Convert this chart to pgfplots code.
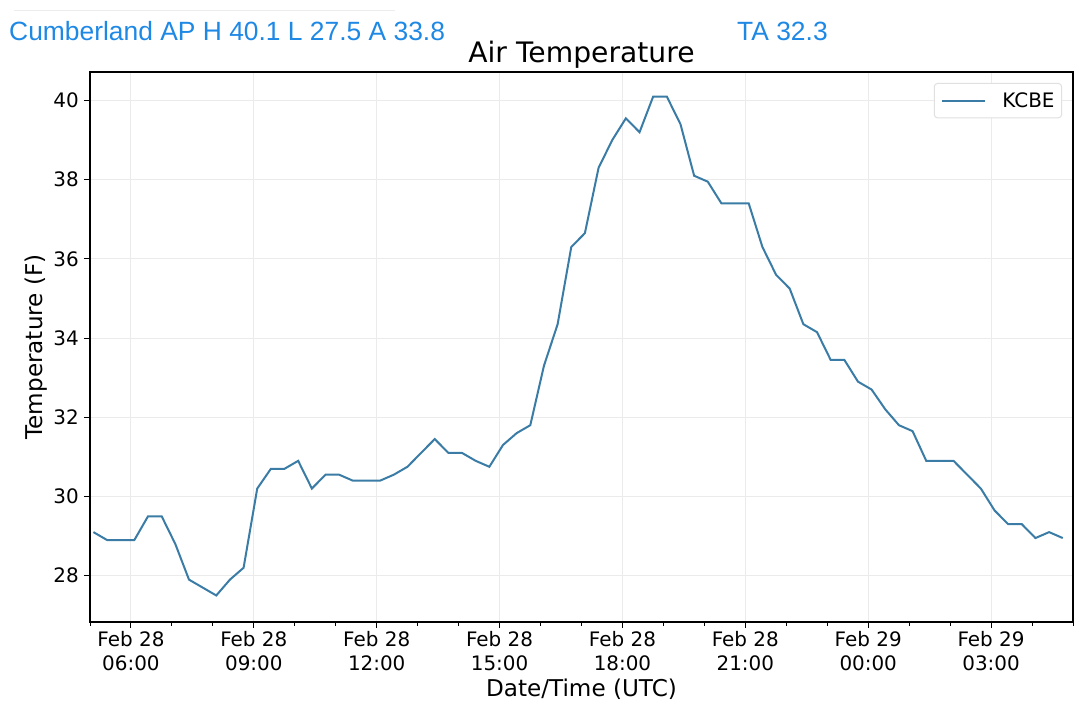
\documentclass[border=0pt]{standalone}
\usepackage{pgfplots}
\pgfplotsset{compat=1.18}
\usepackage{fontspec}
\setmainfont{DejaVu Sans}
\newfontfamily\libsans{Liberation Sans}
\definecolor{kline}{HTML}{3A7CA5}
\definecolor{apblue}{HTML}{1E88E5}
\definecolor{gridc}{HTML}{EBEBEB}
\pgfplotstableread{
t T
5.083 29.1
5.417 28.9
5.75 28.9
6.083 28.9
6.417 29.5
6.75 29.5
7.083 28.8
7.417 27.9
7.75 27.7
8.083 27.5
8.417 27.9
8.75 28.2
9.083 30.2
9.417 30.7
9.75 30.7
10.083 30.9
10.417 30.2
10.75 30.55
11.083 30.55
11.417 30.4
11.75 30.4
12.083 30.4
12.417 30.55
12.75 30.75
13.083 31.1
13.417 31.45
13.75 31.1
14.083 31.1
14.417 30.9
14.75 30.75
15.083 31.3
15.417 31.6
15.75 31.8
16.083 33.3
16.417 34.35
16.75 36.3
17.083 36.65
17.417 38.3
17.75 39.0
18.083 39.55
18.417 39.2
18.75 40.1
19.083 40.1
19.417 39.4
19.75 38.1
20.083 37.95
20.417 37.4
20.75 37.4
21.083 37.4
21.417 36.3
21.75 35.6
22.083 35.25
22.417 34.35
22.75 34.15
23.083 33.45
23.417 33.45
23.75 32.9
24.083 32.7
24.417 32.2
24.75 31.8
25.083 31.65
25.417 30.9
25.75 30.9
26.083 30.9
26.417 30.55
26.75 30.2
27.083 29.65
27.417 29.3
27.75 29.3
28.083 28.95
28.417 29.1
28.75 28.95
}\kcbe
\begin{document}
\begin{tikzpicture}
\path[use as bounding box] (0bp,0bp) rectangle (1080bp,715bp);
\draw[color=black!7, line width=1bp] (14bp,704bp) -- (395bp,704bp);
\node[anchor=base west, inner sep=0pt, text=apblue, font=\libsans\fontsize{26.5}{31}\selectfont] at (9bp,674bp) {Cumberland AP H 40.1 L 27.5 A 33.8};
\node[anchor=base west, inner sep=0pt, text=apblue, font=\libsans\fontsize{26.5}{31}\selectfont] at (737bp,674bp) {TA 32.3};
\begin{axis}[
  at={(90bp,93bp)}, anchor=south west,
  scale only axis, width=983bp, height=550bp,
  xmin=5.0, xmax=29.0, ymin=26.83, ymax=40.72,
  xtick={6,9,12,15,18,21,24,27},
  xticklabels={{Feb 28\\06:00},{Feb 28\\09:00},{Feb 28\\12:00},{Feb 28\\15:00},{Feb 28\\18:00},{Feb 28\\21:00},{Feb 29\\00:00},{Feb 29\\03:00}},
  minor xtick={5,7,8,10,11,13,14,16,17,19,20,22,23,25,26,28,29},
  ytick={28,30,32,34,36,38,40},
  grid=major, major grid style={color=gridc, line width=1bp},
  tick align=outside, major tick length=6bp, minor tick length=4bp,
  tick style={black, line width=1bp},
  xtick pos=left, ytick pos=left,
  axis line style={line width=1.3bp, black},
  /pgf/number format/assume math mode=true,
  ticklabel style={font=\fontsize{20}{24}\selectfont},
  xticklabel style={align=center, inner sep=0pt, anchor=north, yshift=-3bp},
  yticklabel style={inner sep=0pt, anchor=east, xshift=-5bp},
  every axis title shift=0pt,
  title={Air Temperature},
  title style={font=\fontsize{28.3}{33}\selectfont, at={(axis description cs:0.5,1)}, anchor=base, yshift=9bp, inner sep=0pt},
  xlabel={Date/Time (UTC)},
  xlabel style={font=\fontsize{23.2}{28}\selectfont, at={(axis description cs:0.5,-0.13636)}, anchor=base, inner sep=0pt},
  ylabel={Temperature (F)},
  ylabel style={font=\fontsize{23.2}{28}\selectfont, at={(axis description cs:-0.04883,0.5)}, anchor=base, rotate=0, inner sep=0pt},
  legend style={at={(1,1)}, anchor=north east, xshift=-11bp, yshift=-11bp, draw=black!12, line width=1bp, rounded corners=3bp, font=\fontsize{20}{24}\selectfont, inner xsep=7bp, inner ysep=9bp, nodes={inner sep=0pt}},
  legend image code/.code={\draw[#1] (0bp,0bp) -- (43bp,0bp); \path[draw=none] (0bp,0bp) -- (60bp,0bp);},
  legend cell align=left,
]
\addplot[kline, line width=2bp] table[x=t, y=T] {\kcbe};
\addlegendentry{KCBE}
\end{axis}
\end{tikzpicture}
\end{document}
